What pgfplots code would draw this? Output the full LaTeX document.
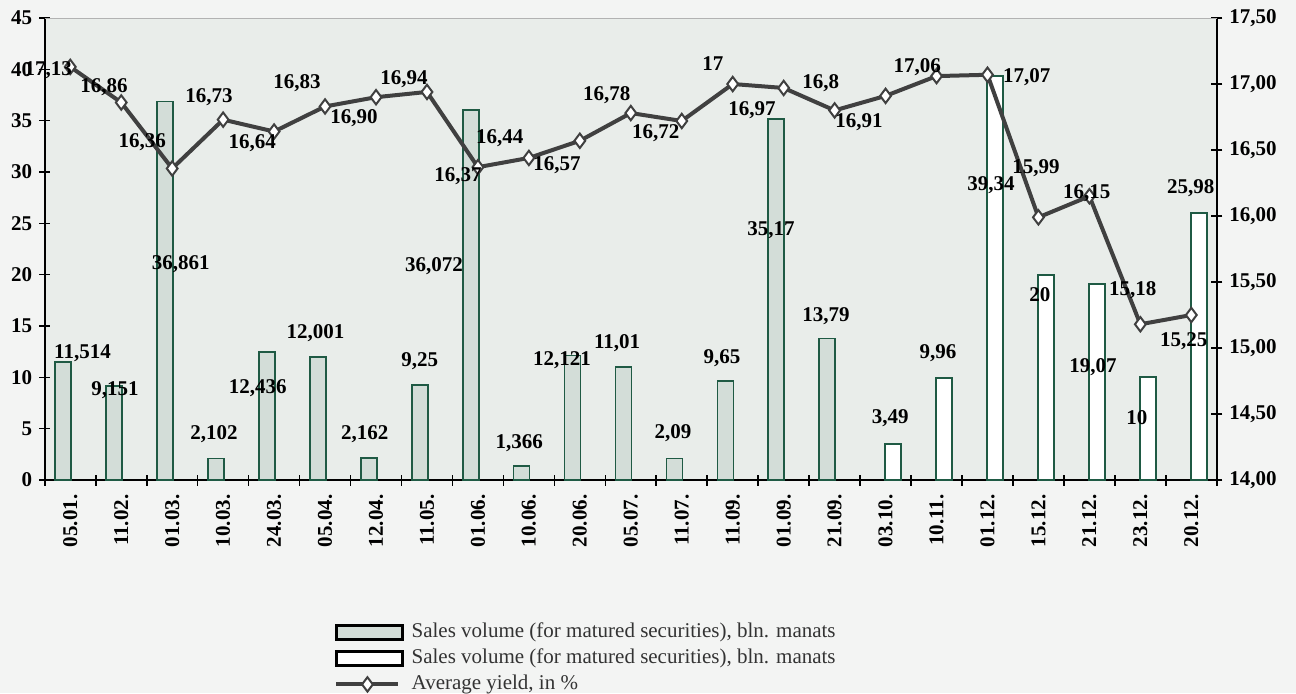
\documentclass[border=0pt]{standalone}
\usepackage{fontspec}
\setmainfont{Liberation Serif}
\usepackage{pgfplots}
\usepackage{pgfplotstable}
\pgfplotsset{compat=1.18}

\definecolor{outerbg}{HTML}{F3F4F3}
\definecolor{plotbg}{HTML}{E9EDEA}
\definecolor{barfill}{HTML}{D3DDD8}
\definecolor{barborder}{HTML}{1F5A44}
\definecolor{linecol}{HTML}{404040}
\definecolor{legtext}{HTML}{333333}

\pgfplotsset{
  lineleg/.style={legend image code/.code={%
    \draw[mark repeat=2, mark phase=2, ##1] plot coordinates {(0pt,0pt) (15.5pt,0pt) (31pt,0pt)};}},
  greyleg/.style={legend image code/.code={%
    \draw[fill=barfill, draw=black, line width=1.2pt] (0pt,-3.5pt) rectangle (33pt,3.5pt);}},
  whiteleg/.style={legend image code/.code={%
    \draw[fill=white, draw=black, line width=1.2pt] (0pt,-3.5pt) rectangle (33pt,3.5pt);}},
}

% sales volume, matured securities (grey bars)
\pgfplotstableread{
x y
0 11.514
1 9.151
2 36.861
3 2.102
4 12.436
5 12.001
6 2.162
7 9.25
8 36.072
9 1.366
10 12.121
11 11.01
12 2.09
13 9.65
14 35.17
15 13.79
}\matured

% sales volume (white bars)
\pgfplotstableread{
x y
16 3.49
17 9.96
18 39.34
19 20
20 19.07
21 10
22 25.98
}\later

% average yield, %
\pgfplotstableread{
x y
0 17.13
1 16.86
2 16.36
3 16.73
4 16.64
5 16.83
6 16.90
7 16.94
8 16.37
9 16.44
10 16.57
11 16.78
12 16.72
13 17
14 16.97
15 16.8
16 16.91
17 17.06
18 17.07
19 15.99
20 16.15
21 15.18
22 15.25
}\yield

% label positions in left-axis units
\pgfplotstableread{
x y lab
0.24 12.37 11,514
0.88 8.77 9,151
2.17 21.04 36,861
2.82 4.48 2,102
3.68 8.96 12,436
4.81 14.32 12,001
5.78 4.48 2,162
6.86 11.59 9,25
7.14 20.84 36,072
8.81 3.60 1,366
9.65 11.69 12,121
10.73 13.34 11,01
11.83 4.58 2,09
12.79 11.88 9,65
13.75 24.35 35,17
14.83 15.97 13,79
16.09 6.04 3,49
17.03 12.37 9,96
18.07 28.73 39,34
19.03 18.02 20
20.07 11.00 19,07
20.93 6.04 10
21.99 28.44 25,98
-0.43 39.93 17,13
0.66 38.28 16,86
1.41 32.92 16,36
2.72 37.30 16,73
3.57 32.82 16,64
4.45 38.67 16,83
5.57 35.26 16,90
6.55 39.06 16,94
7.61 29.61 16,37
8.43 33.31 16,44
9.55 30.68 16,57
10.53 37.50 16,78
11.49 33.80 16,72
12.61 40.52 17
13.38 36.04 16,97
14.73 38.67 16,8
15.48 34.87 16,91
16.62 40.23 17,06
18.77 39.25 17,07
18.95 30.39 15,99
19.95 27.95 16,15
20.85 18.51 15,18
21.85 13.54 15,25
}\labels

\begin{document}
\begin{tikzpicture}
\path[use as bounding box, fill=outerbg] (-22.4pt,-106.5pt) rectangle (625.6pt,240pt);

\pgfplotsset{
  frame/.style={
    scale only axis, width=586pt, height=231pt,
    xmin=-0.5, xmax=22.5,
    tick align=center, major tick length=5.5pt, minor tick length=5.5pt,
    tick style={black, line width=0.8pt},
    axis line style={black, line width=0.8pt, -},
    ticklabel style={font=\bfseries\fontsize{10.5}{12}\selectfont},
    /pgf/number format/assume math mode=true,
  },
}

\begin{axis}[frame,
  ymin=0, ymax=45, ytick={0,5,...,45},
  axis x line*=bottom, axis y line*=left,
  axis background/.style={fill=plotbg},
  xtick={0,...,22},
  xticklabels={05.01.,11.02.,01.03.,10.03.,24.03.,05.04.,12.04.,11.05.,01.06.,10.06.,20.06.,05.07.,11.07.,11.09.,01.09.,21.09.,03.10.,10.11.,01.12.,15.12.,21.12.,23.12.,20.12.},
  minor xtick={-0.5,0.5,...,22.5},
  major x tick style={draw=none},
  xticklabel style={rotate=90, anchor=east, xshift=-1pt},
]
\addplot[ybar, bar width=8pt, bar shift=-3.65pt, fill=barfill, draw=barborder, line width=0.9pt] table {\matured};
\addplot[ybar, bar width=8pt, bar shift=3.75pt, fill=white, draw=barborder, line width=0.9pt] table {\later};
\end{axis}

\begin{axis}[frame,
  ymin=14, ymax=17.5, ytick={14,14.5,...,17.5},
  axis y line*=right, axis x line=none,
  yticklabel style={/pgf/number format/.cd, fixed, fixed zerofill, precision=2, use comma},
  legend style={at={(0.2468,-0.303)}, anchor=north west, draw=none, fill=none,
    inner sep=0pt, row sep=1pt, text=legtext,
    font=\fontsize{10.5}{12}\selectfont,
    /tikz/every odd column/.append style={column sep=3pt},
    nodes={inner sep=1pt, text height=7.5pt, text depth=2.5pt}},
  legend cell align=left,
]
\draw[gray!60, line width=0.6pt] (rel axis cs:0,1) -- (rel axis cs:1,1);
\addlegendimage{greyleg}
\addlegendentry{Sales volume (for matured securities), bln. manats}
\addlegendimage{whiteleg}
\addlegendentry{Sales volume (for matured securities), bln. manats}
\addplot[linecol, line width=2pt, mark=diamond*, mark size=3.6pt,
  mark options={fill=white, draw=linecol, line width=1pt}, lineleg]
  table {\yield};
\addlegendentry{Average yield, in \%}
\end{axis}

\begin{axis}[frame, hide axis, ymin=0, ymax=45, clip=false]
\addplot[only marks, mark=none, nodes near coords, point meta=explicit symbolic,
  nodes near coords style={anchor=center, inner sep=0pt, text=black,
    font=\bfseries\fontsize{10.5}{12}\selectfont}]
  table[meta=lab] {\labels};
\end{axis}
\end{tikzpicture}
\end{document}
